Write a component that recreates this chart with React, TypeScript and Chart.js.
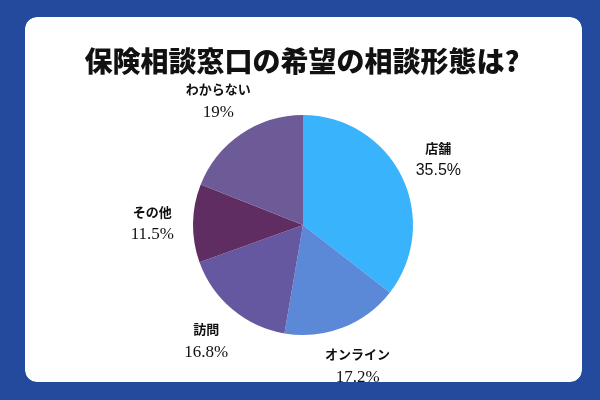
import React, { useEffect, useRef } from "react";
import { Chart, registerables } from "chart.js";

Chart.register(...registerables);

const title = "保険相談窓口の希望の相談形態は?";
const categories = ["店舗", "オンライン", "訪問", "その他", "わからない"];
const values = [35.5, 17.2, 16.8, 11.5, 19];
const valueLabels = ["35.5%", "17.2%", "16.8%", "11.5%", "19%"];
const colors = ["#3ab3fd", "#5c88d8", "#6558a0", "#5f2d62", "#6d5b98"];
const numberFonts = ["sans", "serif", "serif", "serif", "serif"];

const BG = "#244a9d";

function roundRectPath(ctx: CanvasRenderingContext2D, x: number, y: number, w: number, h: number, r: number) {
  ctx.moveTo(x + r, y);
  ctx.lineTo(x + w - r, y);
  ctx.arcTo(x + w, y, x + w, y + r, r);
  ctx.lineTo(x + w, y + h - r);
  ctx.arcTo(x + w, y + h, x + w - r, y + h, r);
  ctx.lineTo(x + r, y + h);
  ctx.arcTo(x, y + h, x, y + h - r, r);
  ctx.lineTo(x, y + r);
  ctx.arcTo(x, y, x + r, y, r);
  ctx.closePath();
}

const decorPlugin = {
  id: "decor",
  beforeDraw(chart: any) {
    const ctx = chart.ctx as CanvasRenderingContext2D;
    ctx.save();
    ctx.fillStyle = BG;
    ctx.fillRect(0, 0, chart.width, chart.height);
    ctx.beginPath();
    roundRectPath(ctx, 25, 17, 557, 365, 12);
    ctx.fillStyle = "#ffffff";
    ctx.fill();
    ctx.fillStyle = "#111111";
    ctx.font = "900 28px 'Noto Sans CJK JP', sans-serif";
    ctx.textAlign = "center";
    ctx.textBaseline = "middle";
    ctx.fillText(title, 302, 61);
    ctx.restore();
  },
  afterDatasetsDraw(chart: any) {
    const ctx = chart.ctx as CanvasRenderingContext2D;
    const meta = chart.getDatasetMeta(0);
    ctx.save();
    ctx.textAlign = "center";
    ctx.textBaseline = "middle";
    ctx.fillStyle = "#111111";
    meta.data.forEach((arc: any, i: number) => {
      const mid = (arc.startAngle + arc.endAngle) / 2;
      const d = arc.outerRadius * 1.37;
      const x = arc.x + Math.cos(mid) * d;
      const y = arc.y + Math.sin(mid) * d;
      ctx.font = "bold 13px 'Noto Sans CJK JP', sans-serif";
      ctx.fillText(categories[i], x, y - 11);
      ctx.font =
        numberFonts[i] === "sans"
          ? "16px 'Liberation Sans', Arial, sans-serif"
          : "17px 'Liberation Serif', 'Times New Roman', serif";
      ctx.fillText(valueLabels[i], x, y + 12);
    });
    ctx.restore();
  },
  afterDraw(chart: any) {
    const ctx = chart.ctx as CanvasRenderingContext2D;
    ctx.save();
    ctx.beginPath();
    ctx.rect(0, 0, chart.width, chart.height);
    roundRectPath(ctx, 25, 17, 557, 365, 12);
    ctx.fillStyle = BG;
    ctx.fill("evenodd");
    ctx.restore();
  },
};

export default function App() {
  const ref = useRef<HTMLCanvasElement>(null);
  useEffect(() => {
    document.body.style.margin = "0";
    const chart = new Chart(ref.current!, {
      type: "pie",
      data: {
        labels: categories,
        datasets: [
          {
            data: values,
            backgroundColor: colors,
            borderWidth: 0,
          },
        ],
      },
      options: {
        responsive: false,
        animation: false,
        events: [],
        layout: { padding: { top: 115, bottom: 65, left: 150, right: 144 } },
        plugins: {
          legend: { display: false },
          tooltip: { enabled: false },
          title: { display: false },
        },
      },
      plugins: [decorPlugin],
    });
    return () => chart.destroy();
  }, []);
  return (
    <div style={{ width: 600, height: 400 }}>
      <canvas ref={ref} width={600} height={400} style={{ display: "block" }} />
    </div>
  );
}
